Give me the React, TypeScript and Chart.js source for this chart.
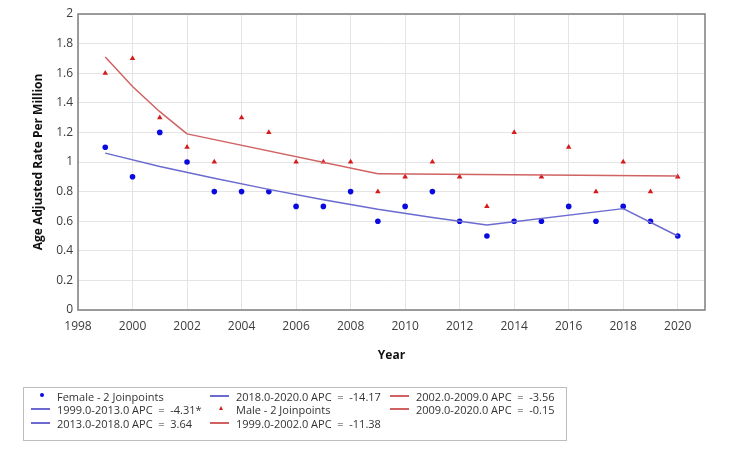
import React, { useEffect, useRef } from "react";
import { Chart, registerables } from "chart.js";

Chart.register(...registerables);

const years = [1999, 2000, 2001, 2002, 2003, 2004, 2005, 2006, 2007, 2008, 2009, 2010, 2011, 2012, 2013, 2014, 2015, 2016, 2017, 2018, 2019, 2020];
const femaleRates = [1.1, 0.9, 1.2, 1.0, 0.8, 0.8, 0.8, 0.7, 0.7, 0.8, 0.6, 0.7, 0.8, 0.6, 0.5, 0.6, 0.6, 0.7, 0.6, 0.7, 0.6, 0.5];
const maleRates = [1.6, 1.7, 1.3, 1.1, 1.0, 1.3, 1.2, 1.0, 1.0, 1.0, 0.8, 0.9, 1.0, 0.9, 0.7, 1.2, 0.9, 1.1, 0.8, 1.0, 0.8, 0.9];

// Fitted joinpoint segments
const femaleSeg1Years = [1999, 2001, 2003, 2005, 2007, 2009, 2011, 2013];
const femaleSeg1Values = [1.06, 0.97, 0.89, 0.815, 0.745, 0.68, 0.625, 0.575];
const femaleSeg2Years = [2013, 2018];
const femaleSeg2Values = [0.575, 0.685];
const femaleSeg3Years = [2018, 2020];
const femaleSeg3Values = [0.685, 0.5];
const maleSeg1Years = [1999, 2000, 2001, 2002];
const maleSeg1Values = [1.71, 1.51, 1.34, 1.19];
const maleSeg2Years = [2002, 2009];
const maleSeg2Values = [1.19, 0.92];
const maleSeg3Years = [2009, 2020];
const maleSeg3Values = [0.92, 0.905];

const xTicks = [1998, 2000, 2002, 2004, 2006, 2008, 2010, 2012, 2014, 2016, 2018, 2020];
const yTicks = [0, 0.2, 0.4, 0.6, 0.8, 1, 1.2, 1.4, 1.6, 1.8, 2];

const legendLabels = [
  "Female - 2 Joinpoints",
  "1999.0-2013.0 APC  =  -4.31*",
  "2013.0-2018.0 APC  =  3.64",
  "2018.0-2020.0 APC  =  -14.17",
  "Male - 2 Joinpoints",
  "1999.0-2002.0 APC  =  -11.38",
  "2002.0-2009.0 APC  =  -3.56",
  "2009.0-2020.0 APC  =  -0.15",
];

const BLUE_PT = "#0a0ae0";
const BLUE_LN = "#6a6ad0";
const RED_PT = "#d41c1c";
const RED_LN = "#d06262";

const pts = (xs: number[], ys: number[]) => xs.map((x, i) => ({ x, y: ys[i] }));

const FONT = "'Open Sans', 'Noto Sans', sans-serif";

export default function App() {
  const ref = useRef<HTMLCanvasElement | null>(null);

  useEffect(() => {
    if (!ref.current) return;
    const lineDs = (xs: number[], ys: number[], color: string) => ({
      data: pts(xs, ys),
      showLine: true,
      borderColor: color,
      borderWidth: 1.5,
      pointRadius: 0,
      fill: false,
      tension: 0,
    });
    const borderPlugin = {
      id: "plotBorder",
      afterDatasetsDraw(chart: any) {
        const { ctx, chartArea } = chart;
        ctx.save();
        ctx.strokeStyle = "#858585";
        ctx.lineWidth = 1.6;
        ctx.strokeRect(chartArea.left, chartArea.top, chartArea.right - chartArea.left, chartArea.bottom - chartArea.top);
        ctx.restore();
      },
    };
    const chart = new Chart(ref.current, {
      type: "scatter",
      data: {
        datasets: [
          lineDs(femaleSeg1Years, femaleSeg1Values, BLUE_LN),
          lineDs(femaleSeg2Years, femaleSeg2Values, BLUE_LN),
          lineDs(femaleSeg3Years, femaleSeg3Values, BLUE_LN),
          lineDs(maleSeg1Years, maleSeg1Values, RED_LN),
          lineDs(maleSeg2Years, maleSeg2Values, RED_LN),
          lineDs(maleSeg3Years, maleSeg3Values, RED_LN),
          {
            data: pts(years, femaleRates),
            pointStyle: "circle",
            pointRadius: 2.8,
            backgroundColor: BLUE_PT,
            borderColor: BLUE_PT,
            borderWidth: 0,
            showLine: false,
          },
          {
            data: pts(years, maleRates),
            pointStyle: "triangle",
            pointRadius: 3.2,
            backgroundColor: RED_PT,
            borderColor: RED_PT,
            borderWidth: 0,
            showLine: false,
          },
        ] as any,
      },
      options: {
        animation: false,
        responsive: false,
        layout: { padding: { left: 0, right: 45, top: 14, bottom: 89 } },
        plugins: { legend: { display: false }, tooltip: { enabled: false } },
        scales: {
          x: {
            type: "linear",
            min: 1998,
            max: 2021,
            afterBuildTicks: (s: any) => {
              s.ticks = xTicks.map((v) => ({ value: v }));
            },
            afterFit: (s: any) => {
              s.height = 58;
            },
            grid: { color: "#e4e4e4", drawTicks: false, lineWidth: 1 },
            border: { display: false },
            ticks: {
              padding: 9,
              color: "#3c3c3c",
              font: { family: FONT, size: 12 },
              maxRotation: 0,
              callback: (v: any) => String(v),
            },
            title: {
              display: true,
              text: "Year",
              color: "#111",
              font: { family: FONT, size: 12, weight: "bold" },
              padding: { top: 0, bottom: 5 },
            },
          },
          y: {
            type: "linear",
            min: 0,
            max: 2,
            afterBuildTicks: (s: any) => {
              s.ticks = yTicks.map((v) => ({ value: v }));
            },
            afterFit: (s: any) => {
              s.width = 78;
            },
            grid: { color: "#e4e4e4", drawTicks: false, lineWidth: 1 },
            border: { display: false },
            ticks: {
              padding: 5,
              color: "#3c3c3c",
              font: { family: FONT, size: 12 },
              callback: (v: any) => String(Math.round(Number(v) * 10) / 10),
            },
            title: {
              display: true,
              text: "Age Adjusted Rate Per Million",
              color: "#111",
              font: { family: FONT, size: 12, weight: "bold" },
              padding: { top: 31, bottom: 0 },
            },
          },
        },
      } as any,
      plugins: [borderPlugin],
    });
    return () => chart.destroy();
  }, []);

  const colX = [31, 210, 390];
  const rowY = [389, 402, 416];
  const items = legendLabels.map((label, i) => ({
    label,
    col: Math.floor(i / 3),
    row: i % 3,
    kind: i === 0 ? "dot" : i === 4 ? "tri" : "line",
    color: i < 4 ? BLUE_LN : RED_LN,
  }));

  return (
    <div style={{ position: "absolute", left: 0, top: 0, width: 750, height: 457, background: "#fff" }}>
      <canvas ref={ref} width={750} height={457} style={{ display: "block", width: 750, height: 457 }} />
      <div
        style={{
          position: "absolute",
          left: 23,
          top: 387,
          width: 544,
          height: 54,
          border: "1px solid #bdbdbd",
          boxSizing: "border-box",
          fontFamily: FONT,
          fontSize: 11,
          color: "#333",
        }}
      >
        {items.map((it, i) => {
          const left = colX[it.col] - 24;
          const top = rowY[it.row] - 388;
          return (
            <div key={i} style={{ position: "absolute", left, top, height: 14, display: "flex", alignItems: "center", whiteSpace: "pre" }}>
              <div style={{ width: 26, height: 14, position: "relative", flex: "none" }}>
                {it.kind === "line" && (
                  <div style={{ position: "absolute", left: 0, top: 6, width: 19, height: 1.5, background: it.color }} />
                )}
                {it.kind === "dot" && (
                  <div style={{ position: "absolute", left: 9, top: 4, width: 4, height: 4, borderRadius: 2, background: BLUE_PT }} />
                )}
                {it.kind === "tri" && (
                  <div
                    style={{
                      position: "absolute",
                      left: 8.5,
                      top: 4,
                      width: 0,
                      height: 0,
                      borderLeft: "2.5px solid transparent",
                      borderRight: "2.5px solid transparent",
                      borderBottom: "4px solid " + RED_PT,
                    }}
                  />
                )}
              </div>
              <span>{it.label}</span>
            </div>
          );
        })}
      </div>
    </div>
  );
}
